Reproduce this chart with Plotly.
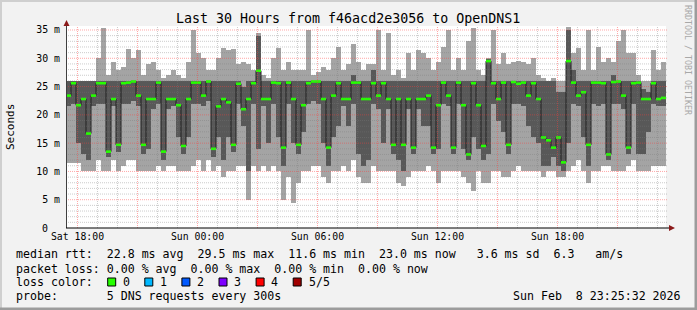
import plotly.graph_objects as go
import pandas as pd

# ---------------- data ----------------
START = "2026-02-07 17:25:32"
END = "2026-02-08 23:25:32"
STEP_MIN = 15

rtt_min = [
    11.5, 11.5, 11.5, 10, 10, 10, 12, 10, 10, 12, 10, 11, 12, 12, 10, 10, 10, 10, 11, 10, 11, 11, 10, 10,
    10, 11, 12, 10, 12, 10, 11, 9, 10, 10, 11, 11, 4.9, 11, 10, 11, 10, 11, 10, 5, 9, 4.5, 8, 10,
    10, 11, 11, 9, 8, 10, 10, 11, 10, 12, 9, 8, 8, 11, 10, 10, 10, 10, 8, 7.5, 9, 10, 10, 10,
    11, 10, 8, 10, 10, 10, 10, 9, 8, 6.5, 10, 8, 8, 10, 10, 9, 9, 10, 11, 10, 10, 10, 10, 9,
    10, 10, 9, 9, 10, 11, 12, 10, 8, 10, 10, 11, 11, 10, 10, 10, 11, 12, 10, 10, 10, 11, 11, 11,
]
rtt_p2 = [
    21.5, 22, 15, 13, 12, 21.5, 22, 22, 12.5, 21.5, 13.5, 22, 22, 22.5, 21.5, 13, 14, 21, 22, 12, 21, 21.5, 16, 13,
    16, 22, 22, 21.5, 22.5, 12.5, 16, 12, 16, 13.5, 22, 18, 10, 22, 14, 21.5, 15, 22, 16, 11, 22, 15, 13, 17,
    22, 22.5, 22, 15, 11, 16, 18, 21.5, 18, 22, 13, 11, 12, 22, 21, 15, 21, 13, 12, 10, 21, 13, 21, 18,
    18, 13, 14, 22, 21.5, 13, 22, 14, 12, 16, 14, 12, 13, 22, 19, 17, 13, 22, 22, 21.5, 18, 16, 15, 11,
    11, 12.5, 11, 10, 15, 22, 21.5, 16, 11, 22, 21.5, 22, 12, 22, 22, 21, 13, 22, 13, 13, 17, 22, 21.5, 21.5,
]
rtt_median = [
    23.4, 25.6, 21.7, 22.8, 16.7, 23.4, 25.6, 25.6, 13.5, 22.8, 14.7, 25.6, 25.7, 25.9, 23.4, 14.7, 22.8, 22.8, 25.7, 13.5, 22.8, 22.8, 21.7, 14.5,
    22.8, 25.7, 25.7, 23.4, 25.9, 14.0, 21.5, 22.8, 22.2, 14.7, 25.5, 21.0, 22.8, 25.6, 27.8, 22.8, 22.8, 25.7, 25.6, 14.2, 25.7, 22.8, 14.7, 21.7,
    25.6, 25.9, 25.9, 22.8, 14.2, 23.4, 25.6, 22.8, 22.8, 25.7, 25.7, 22.8, 22.8, 25.6, 23.4, 25.6, 22.8, 14.7, 22.8, 14.7, 22.8, 14.2, 22.8, 22.8,
    23.4, 14.2, 21.7, 25.7, 23.4, 14.2, 25.7, 21.7, 13.0, 25.6, 21.7, 14.5, 29.5, 25.6, 22.8, 25.7, 14.7, 25.8, 25.5, 25.7, 23.4, 25.6, 22.8, 16.0,
    15.5, 14.2, 16.0, 11.6, 29.5, 25.7, 23.4, 24.0, 14.7, 25.7, 25.7, 25.6, 13.0, 25.8, 25.9, 23.4, 14.2, 25.6, 25.7, 22.8, 22.8, 25.6, 22.8, 23.0,
]
rtt_p4 = [
    25.9, 26, 25.9, 25.9, 25.9, 25.9, 25.9, 26, 25.9, 25.9, 25.9, 26, 26, 26, 26, 25.9, 26, 26, 26, 25.9, 25.9, 25.9, 25.9, 25.9,
    26, 26, 26, 26, 26, 26, 26, 26, 26, 26, 26, 25, 26, 26, 34, 25.9, 25.9, 26, 26, 26, 26, 26, 26, 26,
    26, 26, 26, 26, 26, 26, 26, 26, 26, 27, 26, 26, 26, 28, 26, 26, 26, 26, 26, 26, 26, 26, 26, 26,
    26, 26, 26, 26, 26, 26, 26, 26, 26, 26, 26, 26, 29.8, 26, 26, 26, 26, 26, 26, 26, 26, 26, 26, 26,
    26, 26, 24, 24, 35, 28, 26, 26, 26, 26, 26, 26, 26, 27, 26, 26, 26, 26, 26, 24.5, 24, 26, 26, 26,
]
rtt_max = [
    26, 26, 26, 26, 26, 26, 30, 35.3, 27, 29.4, 28, 28.5, 31.7, 30, 31.4, 27, 29, 29.4, 28, 26.5, 27, 28, 27, 26.5,
    29.4, 35, 31, 30, 28, 28, 30, 31.8, 31.5, 31.7, 29, 29.4, 29, 28, 34.5, 27, 26.5, 30, 31.8, 28, 29.4, 28, 28, 28,
    35, 27, 27.5, 28.5, 28, 30, 32, 28, 29, 32.5, 29.4, 28, 29, 29, 35, 28, 34.5, 27, 28, 26.5, 31, 28, 31.5, 31,
    30, 28, 29.4, 32, 35, 28, 30, 28, 33, 35.3, 28, 27, 30, 35, 29, 31, 29, 29.4, 29.5, 29.4, 29, 30, 27, 26.5,
    26, 26.5, 26, 26, 35.5, 31, 31.8, 28, 35, 28, 32, 29.4, 30, 29.4, 33, 35, 31, 31, 27, 26, 26, 31.5, 28, 29.4,
]

x_tick_vals = ["2026-02-07 18:00", "2026-02-08 00:00", "2026-02-08 06:00",
               "2026-02-08 12:00", "2026-02-08 18:00"]
x_tick_text = ["Sat 18:00", "Sun 00:00", "Sun 06:00", "Sun 12:00", "Sun 18:00"]
y_tick_vals = [5, 10, 15, 20, 25, 30, 35]
y_tick_text = ["5 m", "10 m", "15 m", "20 m", "25 m", "30 m", "35 m"]
y_zero_label = "0"

title_text = "Last 30 Hours from f46acd2e3056 to OpenDNS1"
legend_rtt = "median rtt:  22.8 ms avg  29.5 ms max  11.6 ms min  23.0 ms now   3.6 ms sd  6.3   am/s"
legend_loss = "packet loss: 0.00 % avg  0.00 % max  0.00 % min  0.00 % now"
legend_color_label = "loss color:"
loss_labels = ["0", "1", "2", "3", "4", "5/5"]
loss_colors = ["#26ff00", "#00b8ff", "#0059ff", "#7e00ff", "#ff0000", "#a00000"]
legend_probe = "probe:       5 DNS requests every 300s"
stamp_text = "Sun Feb  8 23:25:32 2026"

# ---------------- geometry helpers ----------------
W, H = 697, 310
ML, MR, MT, MB = 66, 31, 26, 82
PW = W - ML - MR   # 600
PH = H - MT - MB   # 202
Y_TOP = 35 * PH / 198.0


def px(x):
    return (x - ML) / PW


def py(y):
    return (H - MB - y) / PH


FONT = "DejaVu Sans Mono"
NB = lambda s: s.replace(" ", "\u00a0")

t0 = pd.Timestamp(START)
step = pd.Timedelta(minutes=STEP_MIN)
n = len(rtt_median)
centers = [t0 + step * (i + 0.5) for i in range(n)]
edges = [t0 + step * i for i in range(n + 1)]
width_ms = STEP_MIN * 60 * 1000

fig = go.Figure()
# outer smoke (min..max)
fig.add_trace(go.Bar(
    x=centers, y=[b - a for a, b in zip(rtt_min, rtt_max)], base=rtt_min,
    width=width_ms, marker=dict(color="#a4a4a4", line=dict(width=0)),
    hoverinfo="skip", showlegend=False))
# inner smoke (2nd..4th ping)
fig.add_trace(go.Bar(
    x=centers, y=[b - a for a, b in zip(rtt_p2, rtt_p4)], base=rtt_p2,
    width=width_ms, marker=dict(color="#585858", line=dict(width=0)),
    hoverinfo="skip", showlegend=False))
# median connecting line
fig.add_trace(go.Scatter(
    x=edges, y=rtt_median + [rtt_median[-1]], mode="lines",
    line=dict(color="#202020", width=1, shape="hv"),
    hoverinfo="skip", showlegend=False))
# median marks coloured by loss (all 0 loss -> green)
gx, gy = [], []
for i, m in enumerate(rtt_median):
    gx += [edges[i], edges[i + 1], None]
    gy += [m, m, None]
fig.add_trace(go.Scatter(
    x=gx, y=gy, mode="lines", line=dict(color=loss_colors[0], width=2.6),
    hoverinfo="skip", showlegend=False, connectgaps=False))

shapes = []
# vertical grid: hourly minor, 3-hourly major
hour = pd.Timestamp("2026-02-07 18:00")
end_ts = pd.Timestamp(END)
while hour < end_ts:
    major = hour.hour % 3 == 0
    shapes.append(dict(
        type="line", xref="x", yref="paper", x0=hour, x1=hour, y0=0, y1=1,
        line=dict(color="rgba(255,60,60,0.45)" if major else "rgba(120,120,120,0.38)",
                  width=1, dash="1px,1px"), layer="above"))
    hour += pd.Timedelta(hours=1)
# horizontal grid: 1 ms minor, 5 ms major
for v in range(1, 36):
    major = v % 5 == 0
    shapes.append(dict(
        type="line", xref="paper", yref="y", x0=0, x1=1.002, y0=v, y1=v,
        line=dict(color="rgba(255,60,60,0.45)" if major else "rgba(120,120,120,0.38)",
                  width=1, dash="1px,1px"), layer="above"))

# axis lines and arrows
shapes.append(dict(type="line", xref="paper", yref="paper",
                   x0=px(66.5), x1=px(66.5), y0=py(228), y1=py(24),
                   line=dict(color="#404040", width=1), layer="above"))
shapes.append(dict(type="line", xref="paper", yref="paper",
                   x0=px(66), x1=px(670), y0=py(228), y1=py(228),
                   line=dict(color="#000000", width=1.2), layer="above"))
shapes.append(dict(type="path", xref="paper", yref="paper",
                   path=f"M {px(63.5)} {py(26)} L {px(69.5)} {py(26)} L {px(66.5)} {py(20)} Z",
                   fillcolor="#8b1a1a", line=dict(width=0), layer="above"))
shapes.append(dict(type="path", xref="paper", yref="paper",
                   path=f"M {px(669)} {py(225)} L {px(669)} {py(231)} L {px(675)} {py(228)} Z",
                   fillcolor="#8b1a1a", line=dict(width=0), layer="above"))

# 3D frame
shapes.append(dict(type="rect", xref="paper", yref="paper", x0=px(0), x1=px(W), y0=py(0), y1=py(2),
                   fillcolor="#cfcfcf", line=dict(width=0), layer="below"))
shapes.append(dict(type="rect", xref="paper", yref="paper", x0=px(0), x1=px(2), y0=py(0), y1=py(H),
                   fillcolor="#cfcfcf", line=dict(width=0), layer="below"))
shapes.append(dict(type="rect", xref="paper", yref="paper", x0=px(0), x1=px(W), y0=py(307.5), y1=py(H),
                   fillcolor="#9c9c9c", line=dict(width=0), layer="below"))
shapes.append(dict(type="rect", xref="paper", yref="paper", x0=px(694.5), x1=px(W), y0=py(0), y1=py(H),
                   fillcolor="#9c9c9c", line=dict(width=0), layer="below"))

# loss colour boxes
box_x0 = 107.7
box_dx = 37.1
for k, c in enumerate(loss_colors):
    bx = box_x0 + k * box_dx
    shapes.append(dict(type="rect", xref="paper", yref="paper",
                       x0=px(bx), x1=px(bx + 8), y0=py(286), y1=py(278),
                       fillcolor=c, line=dict(color="#000000", width=1), layer="above"))

annotations = []


def note(text, x, y, size, xanchor="left", color="#000000", angle=0):
    annotations.append(dict(
        text=NB(text), x=px(x), y=py(y), xref="paper", yref="paper",
        xanchor=xanchor, yanchor="middle", showarrow=False, textangle=angle,
        font=dict(family=FONT, size=size, color=color),
        borderpad=0, borderwidth=0))


note(title_text, 347.5, 19, 13.3, xanchor="center")
note("Seconds", 10, 127, 11, xanchor="center", angle=-90)
note("RRDTOOL / TOBI OETIKER", 688, 60, 8.3, xanchor="center", color="#a8a8a8", angle=90)
# zero label of the y axis (aligned with the digits of the other labels)
annotations.append(dict(
    text=y_zero_label, x=px(47.5), y=0, xref="paper", yref="y",
    xanchor="right", yanchor="middle", showarrow=False,
    font=dict(family=FONT, size=9.9, color="#000000"), borderpad=0, borderwidth=0))
note(legend_rtt, 16, 254.5, 11.6)
note(legend_loss, 16, 268.5, 11.6)
note(legend_color_label, 16, 282, 11.6)
for k, lab in enumerate(loss_labels):
    note(lab, box_x0 + k * box_dx + 15.3, 282, 11.6)
note(legend_probe, 16, 296, 11.6)
note(stamp_text, 681, 296, 11.6, xanchor="right")

fig.update_layout(
    width=W, height=H, autosize=False,
    margin=dict(l=ML, r=MR, t=MT, b=MB, pad=0),
    paper_bgcolor="#f2f2f2", plot_bgcolor="#ffffff",
    barmode="overlay", bargap=0, showlegend=False,
    shapes=shapes, annotations=annotations,
    xaxis=dict(type="date", range=[START, END], tickvals=x_tick_vals, ticktext=x_tick_text,
               showgrid=False, zeroline=False, showline=False, ticks="",
               tickfont=dict(family=FONT, size=9.8, color="#000000"), ticklabelstandoff=1,
               fixedrange=True),
    yaxis=dict(range=[0, Y_TOP], tickvals=y_tick_vals, ticktext=y_tick_text,
               showgrid=False, zeroline=False, showline=False, ticks="",
               tickfont=dict(family=FONT, size=9.9, color="#000000"), ticklabelstandoff=5,
               fixedrange=True),
)

fig.write_html("out.html", config={"displayModeBar": False})
